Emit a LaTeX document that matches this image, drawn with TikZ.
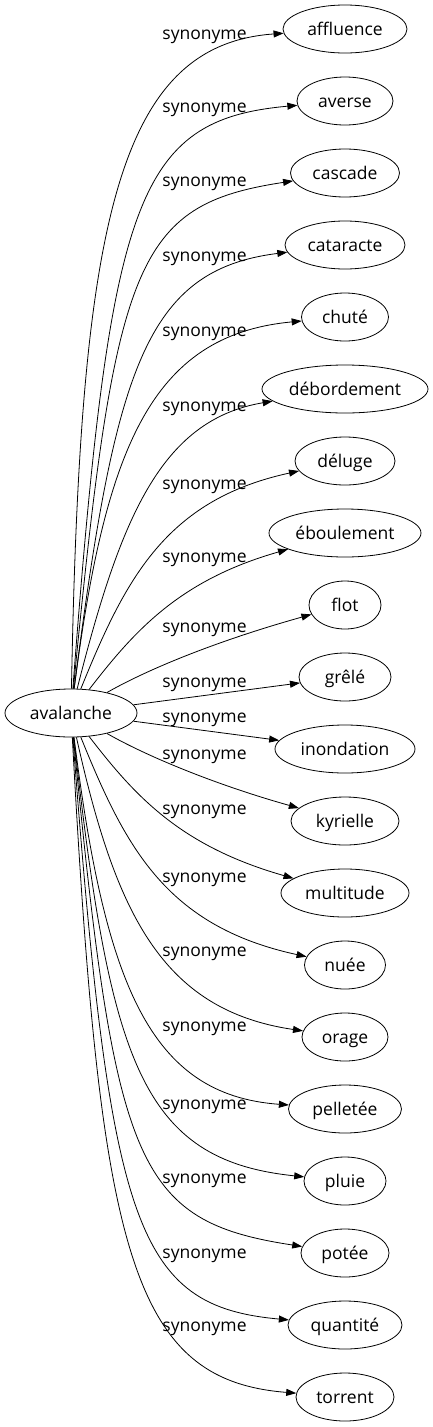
\documentclass[tikz,border=0pt]{standalone}
\usepackage{fontspec}
\setmainfont{Open Sans}
\usetikzlibrary{arrows.meta,shapes.geometric}
\begin{document}
\begin{tikzpicture}[x=1pt,y=-1pt,
  font=\fontsize{17.5}{20}\selectfont,
  word/.style={ellipse,draw,line width=0.8pt,minimum height=48pt,inner sep=0pt,text height=12pt,text depth=0pt},
  lab/.style={anchor=base,inner sep=0pt},
  edge/.style={line width=0.8pt,-{Triangle[length=10pt,width=7pt]}}]
\useasboundingbox (0,0) rectangle (433,1427);
\node[word,minimum width=132pt] (av) at (71,713) {\makebox[0pt]{avalanche}};
\node[word,minimum width=124pt] (t1) at (345,29) {\makebox[0pt]{affluence}};
\node[word,minimum width=96pt] (t2) at (345,101) {\makebox[0pt]{averse}};
\node[word,minimum width=109pt] (t3) at (345,173) {\makebox[0pt]{cascade}};
\node[word,minimum width=120pt] (t4) at (345,245) {\makebox[0pt]{cataracte}};
\node[word,minimum width=87pt] (t5) at (345,317) {\makebox[0pt]{chuté}};
\node[word,minimum width=166pt] (t6) at (345,389) {\makebox[0pt]{débordement}};
\node[word,minimum width=100pt] (t7) at (345,461) {\makebox[0pt]{déluge}};
\node[word,minimum width=152pt] (t8) at (345,533) {\makebox[0pt]{éboulement}};
\node[word,minimum width=72pt] (t9) at (345,605) {\makebox[0pt]{flot}};
\node[word,minimum width=92pt] (t10) at (345,677) {\makebox[0pt]{grêlé}};
\node[word,minimum width=140pt] (t11) at (345,749) {\makebox[0pt]{inondation}};
\node[word,minimum width=108pt] (t12) at (345,821) {\makebox[0pt]{kyrielle}};
\node[word,minimum width=128pt] (t13) at (345,893) {\makebox[0pt]{multitude}};
\node[word,minimum width=81pt] (t14) at (345,965) {\makebox[0pt]{nuée}};
\node[word,minimum width=86pt] (t15) at (345,1037) {\makebox[0pt]{orage}};
\node[word,minimum width=113pt] (t16) at (345,1109) {\makebox[0pt]{pelletée}};
\node[word,minimum width=82pt] (t17) at (345,1181) {\makebox[0pt]{pluie}};
\node[word,minimum width=88pt] (t18) at (345,1253) {\makebox[0pt]{potée}};
\node[word,minimum width=114pt] (t19) at (345,1325) {\makebox[0pt]{quantité}};
\node[word,minimum width=98pt] (t20) at (345,1397) {\makebox[0pt]{torrent}};
% labels
\node[lab] (l1) at (204.5,39.5) {synonyme};
\node[lab] (l2) at (204.5,112.5) {synonyme};
\node[lab] (l3) at (204.5,186.5) {synonyme};
\node[lab] (l4) at (204.5,261.5) {synonyme};
\node[lab] (l5) at (204.5,336.5) {synonyme};
\node[lab] (l6) at (204.5,411.5) {synonyme};
\node[lab] (l7) at (204.5,489.5) {synonyme};
\node[lab] (l8) at (204.5,562.5) {synonyme};
\node[lab] (l9) at (204.5,632.5) {synonyme};
\node[lab] (l10) at (204.5,687) {synonyme};
\node[lab] (l11) at (204.5,722.5) {synonyme};
\node[lab] (l12) at (204.5,759.5) {synonyme};
\node[lab] (l13) at (204.5,814.5) {synonyme};
\node[lab] (l14) at (204.5,882.5) {synonyme};
\node[lab] (l15) at (204.5,956.5) {synonyme};
\node[lab] (l16) at (204.5,1031.5) {synonyme};
\node[lab] (l17) at (204.5,1109.5) {synonyme};
\node[lab] (l18) at (204.5,1183.5) {synonyme};
\node[lab] (l19) at (204.5,1258.5) {synonyme};
\node[lab] (l20) at (204.5,1331.5) {synonyme};
% edges
\draw[edge] (av) .. controls (80,230) and (115,45) .. (t1);
\draw[edge] (av) .. controls (110,200) and (135,120) .. (t2);
\draw[edge] (av) .. controls (115,260) and (135,205) .. (t3);
\draw[edge] (av) .. controls (115,370) and (145,270) .. (t4);
\draw[edge] (av) .. controls (105,450) and (150,335) .. (t5);
\draw[edge] (av) .. controls (120,520) and (160,420) .. (t6);
\draw[edge] (av) .. controls (125,580) and (165,500) .. (t7);
\draw[edge] (av) .. controls (135,630) and (180,580) .. (t8);
\draw[edge] (av) .. controls (150,668) and (220,640) .. (t9);
\draw[edge] (av) -- (t10);
\draw[edge] (av) -- (t11);
\draw[edge] (av) .. controls (150,758) and (220,786) .. (t12);
\draw[edge] (av) .. controls (135,796) and (180,846) .. (t13);
\draw[edge] (av) .. controls (125,846) and (165,926) .. (t14);
\draw[edge] (av) .. controls (115,910) and (160,1010) .. (t15);
\draw[edge] (av) .. controls (105,985) and (150,1095) .. (t16);
\draw[edge] (av) .. controls (110,1060) and (140,1160) .. (t17);
\draw[edge] (av) .. controls (115,1166) and (135,1221) .. (t18);
\draw[edge] (av) .. controls (110,1226) and (135,1306) .. (t19);
\draw[edge] (av) .. controls (100,1250) and (130,1380) .. (t20);
\end{tikzpicture}
\end{document}
